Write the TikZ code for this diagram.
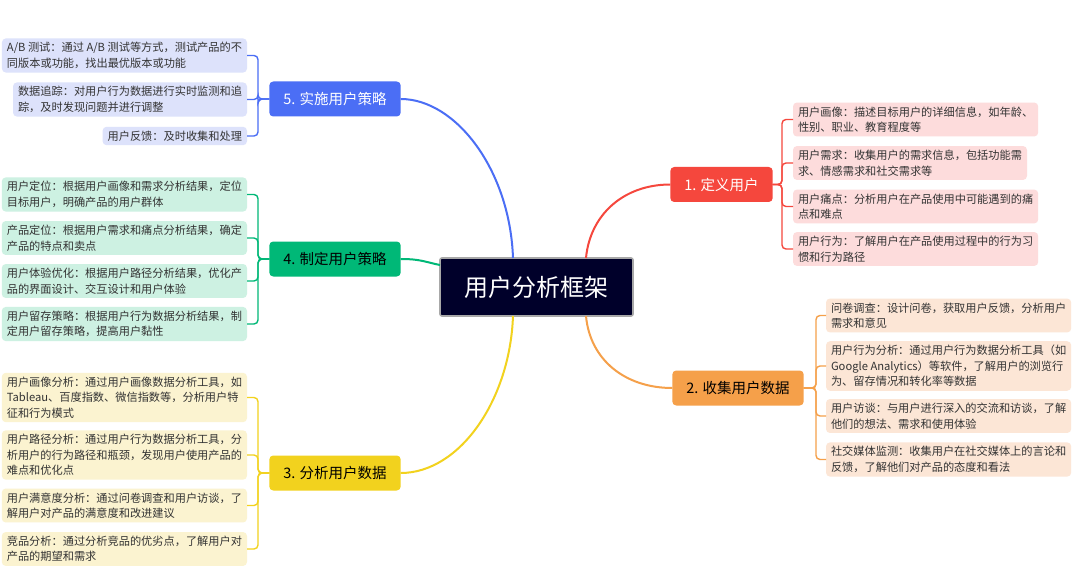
\documentclass[tikz,border=0pt]{standalone}
\usepackage{fontspec}
\newfontfamily\cjk{Noto Sans CJK SC}
\usepackage{xcolor}
\definecolor{rootbg}{HTML}{00002A}
\definecolor{rootline}{HTML}{A8A8A8}
\definecolor{leaftext}{HTML}{333333}
\definecolor{define}{HTML}{F5473D}
\definecolor{collect}{HTML}{F5A04A}
\definecolor{analyse}{HTML}{F2D21E}
\definecolor{strategy}{HTML}{00B877}
\definecolor{apply}{HTML}{4B6EF5}
\definecolor{definebg}{HTML}{FDDCDC}
\definecolor{collectbg}{HTML}{FCE6D6}
\definecolor{analysebg}{HTML}{FBF3D0}
\definecolor{strategybg}{HTML}{CDF1E2}
\definecolor{applybg}{HTML}{DDE2FB}
\usepackage{tikz}
\usetikzlibrary{positioning,calc}

\begin{document}
\begin{tikzpicture}[x=1pt, y=-1pt,
  leafbox/.style={font=\cjk\fontsize{11.2}{15.5}\selectfont, text=leaftext,
    align=left, rounded corners=4pt, inner xsep=5pt, inner ysep=4pt, outer sep=0pt},
  topic/.style={font=\cjk\fontsize{14.5}{17}\selectfont, rounded corners=4pt,
    minimum height=35pt, inner xsep=14pt, outer sep=0pt},
  branch/.style={line width=2pt},
  bracket/.style={line width=1.4pt, rounded corners=4pt}]
  \useasboundingbox[fill=white] (0,0) rectangle (1080,575);

  \node[font=\cjk\fontsize{24}{28}\selectfont, text=white, fill=rootbg,
        draw=rootline, line width=1.6pt, rounded corners=2pt, outer sep=0pt,
        minimum width=193pt, minimum height=58pt] (root) at (536.5,287) {用户分析框架};
  \coordinate (rt5) at ([xshift=-23.5pt]root.north);
  \coordinate (rt1) at ([xshift=49.5pt]root.north);
  \coordinate (rb5) at ([xshift=-23.5pt]root.south);
  \coordinate (rb1) at ([xshift=49.5pt]root.south);
  \coordinate (rl)  at ([yshift=22pt]root.west);

  % main topics
  \node[topic, fill=define, text=white]    (def) at (721.5,184.5) {1. 定义用户};
  \node[topic, fill=collect, text=black]   (col) at (738,388) {2. 收集用户数据};
  \node[topic, fill=analyse, text=black]   (ana) at (335,473) {3. 分析用户数据};
  \node[topic, fill=strategy, text=black]  (stg) at (335,259) {4. 制定用户策略};
  \node[topic, fill=apply, text=white]     (app) at (335,99)  {5. 实施用户策略};

  \draw[branch, apply]    (app.east) .. controls +(55,0) and +(-3,-88) .. (rt5);
  \draw[branch, define]   (def.west) .. controls +(-47,0) and +(4,-43) .. (rt1);
  \draw[branch, collect]  (col.west) .. controls +(-47,0) and +(4,44) .. (rb1);
  \draw[branch, analyse]  (ana.east) .. controls +(59,0) and +(-3,84) .. (rb5);
  \draw[branch, strategy] (stg.east) .. controls +(20,0) and +(-15,-3) .. (rl);

  % 1. define
  \node[leafbox, fill=definebg, anchor=west] (def1) at (793,119.5) {用户画像：描述目标用户的详细信息，如年龄、\\性别、职业、教育程度等};
  \node[leafbox, fill=definebg, anchor=west] (def2) at (793,163) {用户需求：收集用户的需求信息，包括功能需\\求、情感需求和社交需求等};
  \node[leafbox, fill=definebg, anchor=west] (def3) at (793,206.5) {用户痛点：分析用户在产品使用中可能遇到的痛\\点和难点};
  \node[leafbox, fill=definebg, anchor=west] (def4) at (793,249) {用户行为：了解用户在产品使用过程中的行为习\\惯和行为路径};
  \coordinate (jdef) at (782,184.5);
  \foreach \n in {def1,def2,def3,def4}
    \draw[bracket, define] (def.east) -- (jdef) |- (\n.west);

  % 2. collect
  \node[leafbox, fill=collectbg, anchor=west] (col1) at (826,315.5) {问卷调查：设计问卷，获取用户反馈，分析用户\\需求和意见};
  \node[leafbox, fill=collectbg, anchor=west] (col2) at (826,366) {用户行为分析：通过用户行为数据分析工具（如\\Google Analytics）等软件，了解用户的浏览行\\为、留存情况和转化率等数据};
  \node[leafbox, fill=collectbg, anchor=west] (col3) at (826,416) {用户访谈：与用户进行深入的交流和访谈，了解\\他们的想法、需求和使用体验};
  \node[leafbox, fill=collectbg, anchor=west] (col4) at (826,459.5) {社交媒体监测：收集用户在社交媒体上的言论和\\反馈，了解他们对产品的态度和看法};
  \coordinate (jcol) at (816,388);
  \foreach \n in {col1,col2,col3,col4}
    \draw[bracket, collect] (col.east) -- (jcol) |- (\n.west);

  % 3. analyse
  \node[leafbox, fill=analysebg, anchor=east] (ana1) at (247,397.5) {用户画像分析：通过用户画像数据分析工具，如\\Tableau、百度指数、微信指数等，分析用户特\\征和行为模式};
  \node[leafbox, fill=analysebg, anchor=east] (ana2) at (247,455) {用户路径分析：通过用户行为数据分析工具，分\\析用户的行为路径和瓶颈，发现用户使用产品的\\难点和优化点};
  \node[leafbox, fill=analysebg, anchor=east] (ana3) at (247,505.5) {用户满意度分析：通过问卷调查和用户访谈，了\\解用户对产品的满意度和改进建议};
  \node[leafbox, fill=analysebg, anchor=east] (ana4) at (247,549) {竞品分析：通过分析竞品的优劣点，了解用户对\\产品的期望和需求};
  \coordinate (jana) at (258,473);
  \foreach \n in {ana1,ana2,ana3,ana4}
    \draw[bracket, analyse] (ana.west) -- (jana) |- (\n.east);

  % 4. strategy
  \node[leafbox, fill=strategybg, anchor=east] (stg1) at (247,194.5) {用户定位：根据用户画像和需求分析结果，定位\\目标用户，明确产品的用户群体};
  \node[leafbox, fill=strategybg, anchor=east] (stg2) at (247,238) {产品定位：根据用户需求和痛点分析结果，确定\\产品的特点和卖点};
  \node[leafbox, fill=strategybg, anchor=east] (stg3) at (247,281) {用户体验优化：根据用户路径分析结果，优化产\\品的界面设计、交互设计和用户体验};
  \node[leafbox, fill=strategybg, anchor=east] (stg4) at (247,324) {用户留存策略：根据用户行为数据分析结果，制\\定用户留存策略，提高用户黏性};
  \coordinate (jstg) at (258,259);
  \foreach \n in {stg1,stg2,stg3,stg4}
    \draw[bracket, strategy] (stg.west) -- (jstg) |- (\n.east);

  % 5. apply
  \node[leafbox, fill=applybg, anchor=east] (app1) at (247,55.5) {A/B 测试：通过 A/B 测试等方式，测试产品的不\\同版本或功能，找出最优版本或功能};
  \node[leafbox, fill=applybg, anchor=east] (app2) at (247,99.5) {数据追踪：对用户行为数据进行实时监测和追\\踪，及时发现问题并进行调整};
  \node[leafbox, fill=applybg, anchor=east] (app3) at (247,136) {用户反馈：及时收集和处理};
  \coordinate (japp) at (258,99);
  \foreach \n in {app1,app2,app3}
    \draw[bracket, apply] (app.west) -- (japp) |- (\n.east);
\end{tikzpicture}
\end{document}
